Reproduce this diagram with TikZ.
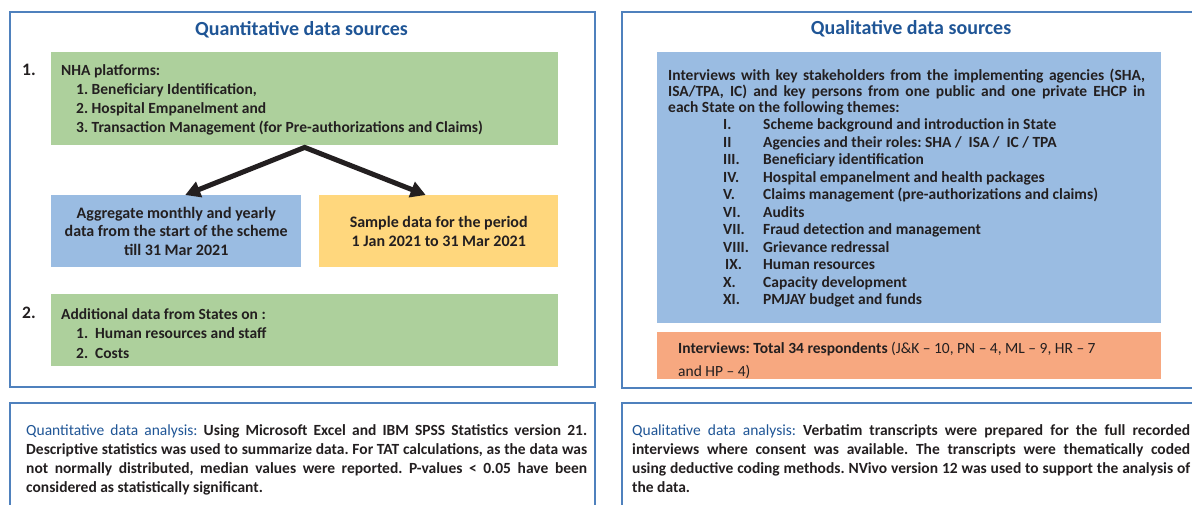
\documentclass[tikz,border=0pt]{standalone}
\usepackage{fontspec}
\setmainfont{Carlito}
\usetikzlibrary{arrows.meta}
\definecolor{frameblue}{HTML}{4F81BD}
\definecolor{titleblue}{HTML}{1F5596}
\definecolor{ink}{HTML}{231F20}
\definecolor{greenfill}{HTML}{ADD09C}
\definecolor{bluefill}{HTML}{9ABCE2}
\definecolor{yellowfill}{HTML}{FFD77D}
\definecolor{orangefill}{HTML}{F7A880}
\frenchspacing
\begin{document}
\begin{tikzpicture}[x=1pt,y=-1pt,
  frame/.style={draw=frameblue, line width=2pt, inner sep=0pt, anchor=north west},
  fillbox/.style={inner sep=0pt, anchor=north west},
  txt/.style={inner sep=0pt, anchor=base west, text=ink, font=\bfseries\fontsize{15.5}{19}\selectfont},
  regtxt/.style={txt, font=\fontsize{15.5}{19}\selectfont},
  numtxt/.style={txt, font=\bfseries\fontsize{17.5}{20}\selectfont},
  boxtxt/.style={text=ink, align=center, font=\bfseries\fontsize{16}{18.5}\selectfont},
  title/.style={inner sep=0pt, anchor=base, text=titleblue, font=\bfseries\fontsize{20}{24}\selectfont},
  para/.style={txt, align=justify},
  bigarrow/.style={draw=ink, line width=5pt, line join=miter,
     {Triangle[length=15pt,width=16pt]}-{Triangle[length=15pt,width=16pt]}}
]
\useasboundingbox (0,0) rectangle (1192,504);
\fill[white] (0,0) rectangle (1192,504);

% ---------------- left: quantitative sources
\node[frame, minimum width=585pt, minimum height=375pt] (qframe) at (9,11) {};
\node[title] (qtitle) at (301.5,35) {Quantitative data sources};

\node[fillbox, fill=greenfill, minimum width=507pt, minimum height=93pt] (g1) at (51,52) {};
\node[numtxt] (n1) at (22,75) {1.};
\node[txt] (g1a) at (61,75) {NHA platforms:};
\node[txt] (g1b) at (76,94) {1. Beneficiary Identification,};
\node[txt] (g1c) at (76,113) {2. Hospital Empanelment and};
\node[txt] (g1d) at (76,132) {3. Transaction Management (for Pre-authorizations and Claims)};

\node[fillbox, fill=bluefill, minimum width=250pt, minimum height=72pt, boxtxt] (b1) at (51,195)
  {Aggregate monthly and yearly\\data from the start of the scheme\\till 31 Mar 2021};
\node[fillbox, fill=yellowfill, minimum width=239pt, minimum height=72pt, boxtxt] (y1) at (319,195)
  {Sample data for the period\\1 Jan 2021 to 31 Mar 2021};

\draw[bigarrow] ([xshift=9pt]b1.north) -- ([yshift=-2pt]g1.south) -- ([xshift=-13pt]y1.north);

\node[fillbox, fill=greenfill, minimum width=507pt, minimum height=72pt] (g2) at (51,294) {};
\node[numtxt] (n2) at (22,318) {2.};
\node[txt] (g2a) at (61,319) {Additional data from States on :};
\node[txt] (g2b) at (76,338) {1.\ \ Human resources and staff};
\node[txt] (g2c) at (76,358) {2.\ \ Costs};

% ---------------- left: analysis
\node[frame, minimum width=585pt, minimum height=140pt] (qaframe) at (9,402) {};
\node[para, text width=561pt] (qatext) at (26,435)
  {{\mdseries\color{titleblue}Quantitative data analysis:} Using Microsoft Excel and IBM SPSS Statistics version 21.\linebreak
   Descriptive statistics was used to summarize data. For TAT calculations, as the data was\linebreak
   not normally distributed, median values were reported. P-values < 0.05 have been\linebreak
   considered as statistically significant.};

% ---------------- right: qualitative sources
\node[frame, minimum width=600pt, minimum height=376pt] (lframe) at (621,11) {};
\node[title] (ltitle) at (911,34) {Qualitative data sources};

\node[fillbox, fill=bluefill, minimum width=504pt, minimum height=271pt] (qb) at (657,52) {};
\node[para, text width=477pt, font=\bfseries\fontsize{15.5}{16}\selectfont] (qbtext) at (668,80)
  {Interviews with key stakeholders from the implementing agencies (SHA,\linebreak
   ISA/TPA, IC) and key persons from one public and one private EHCP in\linebreak
   each State on the following themes:};
\foreach \xx/\nn/\tt [count=\i] in {
  723/I./Scheme background and introduction in State,
  723/II/{Agencies and their roles: SHA /\ \ ISA /\ \ IC / TPA},
  723/III./Beneficiary identification,
  723/IV./Hospital empanelment and health packages,
  723/V./Claims management (pre-authorizations and claims),
  723/VI./Audits,
  723/VII./Fraud detection and management,
  723/VIII./Grievance redressal,
  725/IX./Human resources,
  723/X./Capacity development,
  723/XI./PMJAY budget and funds}
{
  \node[txt] (num\i) at (\xx,129.5+17.5*\i-17.5) {\nn};
  \node[txt] (item\i) at (763,129.5+17.5*\i-17.5) {\tt};
}

\node[fillbox, fill=orangefill, minimum width=504pt, minimum height=47pt] (ob) at (657,332) {};
\node[txt] (oba) at (678,353) {Interviews: Total 34 respondents{\mdseries\ (J\&K – 10, PN – 4, ML – 9, HR – 7}};
\node[regtxt] (obb) at (678,376) {and HP – 4)};

% ---------------- right: analysis
\node[frame, minimum width=600pt, minimum height=140pt] (laframe) at (621,402) {};
\node[para, text width=558pt] (latext) at (632,435)
  {{\mdseries\color{titleblue}Qualitative data analysis:} Verbatim transcripts were prepared for the full recorded\linebreak
   interviews where consent was available. The transcripts were thematically coded\linebreak
   using deductive coding methods. NVivo version 12 was used to support the analysis of\linebreak
   the data.};
\end{tikzpicture}
\end{document}
